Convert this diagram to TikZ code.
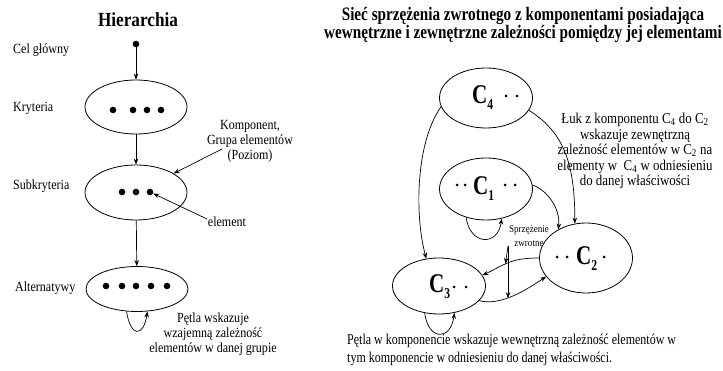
\documentclass[tikz,border=0pt]{standalone}
\usepackage{fontspec}
\setmainfont[FakeStretch=0.86]{Liberation Serif}
\newfontfamily\titlefont[FakeStretch=0.8]{Liberation Serif}
\newfontfamily\cfont[FakeStretch=0.78]{Liberation Serif Bold}
\newfontfamily\botfont[FakeStretch=0.8]{Liberation Serif}
\usetikzlibrary{arrows.meta,shapes.geometric}
\newcommand{\Cname}[1]{{\cfont\fontsize{27}{27}\selectfont C}\raisebox{-6pt}{\cfont\fontsize{15}{15}\selectfont #1}}
\tikzset{
  arr/.style={-{Stealth[length=6pt,width=4.5pt]}, line width=0.7pt},
  lvl/.style={draw, ellipse, line width=0.8pt, inner sep=0, minimum width=102pt},
  comp/.style={draw, ellipse, line width=0.8pt, inner sep=0, minimum width=93pt},
  el/.style={fill, circle, minimum size=6.6pt, inner sep=0},
  lbl/.style={font=\fontsize{14}{14}\selectfont, inner sep=0},
  note/.style={font=\fontsize{14}{15}\selectfont, inner sep=0, align=center},
  cname/.style={anchor=base west, inner sep=0},
  sdot/.style={fill, circle, minimum size=3pt, inner sep=0}
}
\begin{document}
\begin{tikzpicture}[x=1pt,y=-1pt]
\useasboundingbox (0,0) rectangle (723,371);
% ---------- Hierarchia ----------
\node[font=\bfseries\fontsize{20}{20}\selectfont, inner sep=0] (hier) at (138,20) {Hierarchia};
\node[el] (goal) at (136,44) {};
\node[lbl, anchor=west] (lgoal) at (13,50) {Cel główny};
\node[lvl, minimum height=54pt] (kr) at (136,107) {};
\node[lbl, anchor=west] (lkr) at (13,108) {Kryteria};
\node[lvl, minimum height=55pt] (sk) at (136,192.5) {};
\node[lbl, anchor=west] (lsk) at (13,186) {Subkryteria};
\node[lvl, minimum height=45pt] (al) at (137,289) {};
\node[lbl, anchor=west] (lal) at (15,288) {Alternatywy};
\foreach \x [count=\i] in {113,133,147,161} \node[el] (kr\i) at (\x,110) {};
\foreach \x [count=\i] in {122,136,150} \node[el] (sk\i) at (\x,192) {};
\foreach \x [count=\i] in {106,122,136,151,167} \node[el] (al\i) at (\x,286) {};
\draw[arr] (goal) -- (kr);
\draw[arr] (kr) -- (sk);
\draw[arr] (sk) -- (al);
\node[note] (komp) at (250,141) {Komponent,\\Grupa elementów\\(Poziom)};
\coordinate (kompa) at (222,149);
\draw[arr] (kompa) -- (sk);
\node[lbl] (elem) at (227,222) {element};
\coordinate (elema) at (207,219);
\draw[arr] (elema) -- (sk3);
\draw[arr] (al.245) .. controls +(4,26) and +(-4,26) .. (al.295);
\node[note] (petla) at (213,334) {Pętla wskazuje\\wzajemną zależność\\elementów w danej grupie};
% ---------- Siec ----------
\node[font=\titlefont\bfseries\fontsize{19}{16.5}\selectfont, inner sep=0, align=center] (title) at (523,25)
  {Sieć sprzężenia zwrotnego z komponentami posiadająca\\wewnętrzne i zewnętrzne zależności pomiędzy jej elementami};
\node[comp, minimum height=60pt] (c4) at (486,98) {};
\node[comp, minimum height=62pt] (c1) at (486,189) {};
\node[comp, minimum height=70pt] (c2) at (586,258) {};
\node[comp, minimum height=56pt] (c3) at (439,286) {};
\node[cname] (c4l) at (472,104) {\Cname{4}};
\node[sdot] at (506,96) {}; \node[sdot] at (517,96) {};
\node[cname] (c1l) at (473,195) {\Cname{1}};
\node[sdot] at (457,185) {}; \node[sdot] at (465,185) {};
\node[sdot] at (505,185) {}; \node[sdot] at (515,185) {};
\node[cname] (c2l) at (576,265) {\Cname{2}};
\node[sdot] at (557,257) {}; \node[sdot] at (567,257) {}; \node[sdot] at (604,257) {};
\node[cname] (c3l) at (429,293) {\Cname{3}};
\node[sdot] at (454,287) {}; \node[sdot] at (466,287) {};
% connectors
\draw[arr] (c4.191) .. controls +(-25,35) and +(-12,-45) .. (c3.115);
\draw[arr] (c4.344) .. controls +(35,22) and +(0,-60) .. (c2.108);
\draw[arr] (c1.5) .. controls +(14,5) and +(2,-22) .. (c2.134);
\draw[arr] (c2.180) .. controls +(-30,0) and +(22,-10) .. coordinate[pos=0.55] (up) (c3.14);
\draw[arr] (c3.340) .. controls +(22,6) and +(-18,12) .. coordinate[pos=0.4] (lo) (c2.205);
\draw[arr] (c3.242) .. controls +(4,28) and +(-4,28) .. (c3.300);
\draw[arr] (c1.235) .. controls +(4,28) and +(-4,28) .. (c1.298);
\node[font=\fontsize{10.5}{14}\selectfont, inner sep=0, align=center] (fb) at (529,236) {Sprzężenie\\zwrotne};
\coordinate (fba) at (508,246);
\draw[arr] (fba) -- (up);
\draw[arr] (fba) -- (fba |- lo);
\node[font=\fontsize{15}{15.5}\selectfont, inner sep=0, align=center] (luk) at (635,151)
  {Łuk z komponentu C\textsubscript{4} do C\textsubscript{2}\\wskazuje zewnętrzną\\zależność elementów w C\textsubscript{2} na\\elementy w \ C\textsubscript{4} w odniesieniu\\do danej właściwości};
\node[font=\botfont\fontsize{15}{18}\selectfont, inner sep=0, align=left, anchor=north west] (bot) at (347,334)
  {Pętla w komponencie wskazuje wewnętrzną zależność elementów w\\tym komponencie w odniesieniu do danej właściwości.};
\end{tikzpicture}
\end{document}
